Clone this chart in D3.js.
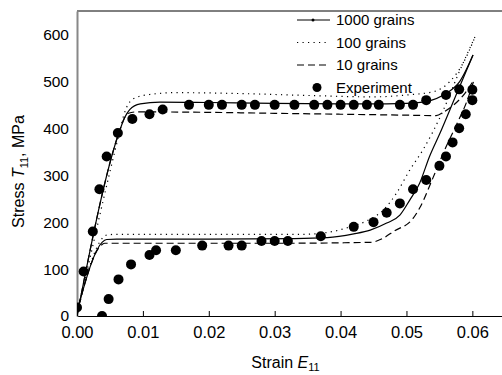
<!DOCTYPE html>
<html>
<head>
<meta charset="utf-8">
<script src="https://cdn.jsdelivr.net/npm/d3@7"></script>
<style>
  body { margin: 0; background: #fff; }
  svg text { font-family: Arial, "Liberation Sans", sans-serif; fill: #000; }
</style>
</head>
<body>
<figure id="chart" style="margin:0"></figure>
<script>
// model curves, [strain, stress MPa], loading branch then unloading branch
const load1000 = [[0, 0], [0.0066, 400], [0.0072, 422], [0.0080, 440], [0.0096, 452], [0.0126, 456], [0.020, 455], [0.030, 453], [0.040, 452], [0.047, 452], [0.050, 453], [0.053, 457], [0.0561, 475], [0.0581, 500], [0.0601, 556]];
const unload1000 = [[0.0002, 20], [0.0038, 157], [0.0045, 163], [0.006, 164], [0.020, 164], [0.033, 165], [0.038, 167], [0.042, 175], [0.0445, 183], [0.047, 198], [0.049, 215], [0.0505, 247], [0.052, 283], [0.0535, 340], [0.0551, 390], [0.0575, 470], [0.0601, 556]];
const load100 = [[0, 0], [0.0066, 400], [0.0071, 428], [0.0078, 452], [0.0090, 466], [0.011, 472], [0.015, 476], [0.025, 474], [0.035, 470], [0.045, 467], [0.050, 471], [0.0541, 478], [0.0566, 500], [0.0586, 539], [0.0605, 598]];
const unload100 = [[0.0002, 20], [0.0040, 168], [0.0046, 173], [0.006, 174], [0.020, 174], [0.034, 174], [0.038, 178], [0.041, 188], [0.044, 203], [0.0465, 226], [0.0485, 262], [0.0505, 311], [0.0525, 354], [0.0556, 439], [0.058, 520], [0.0605, 598]];
const load10 = [[0, 0], [0.0066, 400], [0.0072, 422], [0.0078, 432], [0.009, 435], [0.020, 434], [0.030, 432], [0.040, 430], [0.050, 428], [0.0545, 427], [0.0557, 435], [0.0572, 450], [0.0589, 475], [0.0603, 505]];
const unload10 = [[0.0002, 20], [0.0036, 150], [0.0042, 155], [0.006, 155], [0.030, 155], [0.0445, 157], [0.0465, 166], [0.048, 180], [0.051, 208], [0.052, 230], [0.0541, 297], [0.0558, 354], [0.0575, 405], [0.0591, 455], [0.0603, 505]];

// experiment points
const expStrain = [0, 0.001, 0.0024, 0.0034, 0.0045, 0.0062, 0.0084, 0.011, 0.013,
  0.017, 0.020, 0.022, 0.025, 0.027, 0.030, 0.033, 0.036, 0.038, 0.040, 0.042, 0.044, 0.0458, 0.049, 0.051,
  0.053, 0.056, 0.058, 0.060, 0.060, 0.059, 0.058, 0.057, 0.056, 0.055, 0.053, 0.051, 0.049, 0.047, 0.045,
  0.042, 0.037, 0.032, 0.030, 0.028, 0.025, 0.023, 0.019, 0.015, 0.012, 0.011, 0.0082, 0.0063, 0.0048, 0.0038];
const expStress = [18, 95, 180, 270, 340, 390, 420, 430, 440,
  450, 450, 450, 450, 450, 450, 450, 450, 450, 450, 450, 450, 450, 450, 450,
  460, 471, 483, 482, 460, 430, 400, 370, 340, 320, 290, 270, 240, 220, 200,
  190, 170, 160, 160, 160, 150, 150, 150, 140, 140, 130, 110, 78, 36, 0];

const xTicks = [0, 0.01, 0.02, 0.03, 0.04, 0.05, 0.06];
const yTicks = [0, 100, 200, 300, 400, 500, 600];

const series = [
  { name: '1000 grains', load: load1000, unload: unload1000, dash: null },
  { name: '100 grains', load: load100, unload: unload100, dash: '1.2,4.3' },
  { name: '10 grains', load: load10, unload: unload10, dash: '7,4' }
];

const W = 502, H = 375;
const margin = { top: 11, left: 77, bottom: 59, right: 0 };
const width = W - margin.left - margin.right;
const height = H - margin.top - margin.bottom;

const svg = d3.select('figure#chart')
  .append('svg')
  .attr('width', W)
  .attr('height', H)
  .append('g')
  .attr('transform', 'translate(' + margin.left + ',' + margin.top + ')');

const x = d3.scaleLinear().domain([0, 0.0645]).range([0, width]);
const y = d3.scaleLinear().domain([0, 650]).range([height, 0]);

svg.append('clipPath').attr('id', 'clip')
  .append('rect').attr('width', width).attr('height', height);

// top border
svg.append('line')
  .attr('x1', 0).attr('x2', width).attr('y1', 0).attr('y2', 0)
  .attr('stroke', '#000').attr('stroke-width', 1);

// X axis
const xAxis = svg.append('g')
  .attr('transform', 'translate(0,' + height + ')')
  .call(d3.axisBottom(x).tickValues(xTicks).tickFormat(d3.format('.2f')).tickSizeInner(-5).tickSizeOuter(0).tickPadding(10));
xAxis.select('.domain').attr('stroke', '#000');
xAxis.selectAll('text').style('font-size', '16.5px');

// Y axis
const yAxis = svg.append('g')
  .call(d3.axisLeft(y).tickValues(yTicks).tickSize(0).tickPadding(8));
yAxis.select('.domain').attr('stroke', '#888').attr('stroke-width', 2);
yAxis.selectAll('text').style('font-size', '15.5px');

// curves
const line = d3.line()
  .x(d => x(d[0]))
  .y(d => y(d[1]))
  .curve(d3.curveMonotoneX);

const plot = svg.append('g').attr('clip-path', 'url(#clip)');
series.forEach(s => {
  [s.load, s.unload].forEach(pts => {
    plot.append('path')
      .datum(pts)
      .attr('d', line)
      .attr('fill', 'none')
      .attr('stroke', '#000')
      .attr('stroke-width', 1.2)
      .attr('stroke-dasharray', s.dash);
  });
});

plot.selectAll('circle.exp')
  .data(expStrain.map((v, i) => [v, expStress[i]]))
  .enter()
  .append('circle')
  .attr('class', 'exp')
  .attr('cx', d => x(d[0]))
  .attr('cy', d => y(d[1]))
  .attr('r', 5)
  .attr('fill', '#000');

// legend
const legend = svg.append('g').attr('transform', 'translate(220,9)');
series.forEach((s, i) => {
  const row = legend.append('g').attr('transform', 'translate(0,' + (i * 22.5) + ')');
  row.append('line')
    .attr('x1', 0).attr('x2', 33).attr('y1', 0).attr('y2', 0)
    .attr('stroke', '#000').attr('stroke-width', 1.2)
    .attr('stroke-dasharray', s.dash);
  if (i === 0) row.append('circle').attr('cx', 16).attr('cy', 0).attr('r', 1.5).attr('fill', '#000');
  row.append('text').attr('x', 39).attr('y', 0).attr('dy', '0.35em')
    .style('font-size', '15px').text(s.name);
});
const expRow = legend.append('g').attr('transform', 'translate(0,' + (3 * 22.5) + ')');
expRow.append('circle').attr('cx', 20).attr('cy', 0).attr('r', 4.5).attr('fill', '#000');
expRow.append('text').attr('x', 39).attr('y', 0).attr('dy', '0.35em')
  .style('font-size', '15px').text('Experiment');

// axis titles
const xt = svg.append('text')
  .attr('x', width / 2 - 4)
  .attr('y', height + 52)
  .attr('text-anchor', 'middle')
  .style('font-size', '16px');
xt.append('tspan').text('Strain  ');
xt.append('tspan').style('font-style', 'italic').text('E');
xt.append('tspan').attr('dy', 3).style('font-size', '11px').text('11');

const yt = svg.append('text')
  .attr('transform', 'rotate(-90)')
  .attr('x', -(height / 2) - 8)
  .attr('y', -53)
  .attr('text-anchor', 'middle')
  .style('font-size', '16px');
yt.append('tspan').text('Stress ');
yt.append('tspan').style('font-style', 'italic').text('T');
yt.append('tspan').attr('dy', 4).style('font-size', '11px').text('11');
yt.append('tspan').attr('dy', -4).text(', MPa');
</script>
</body>
</html>
